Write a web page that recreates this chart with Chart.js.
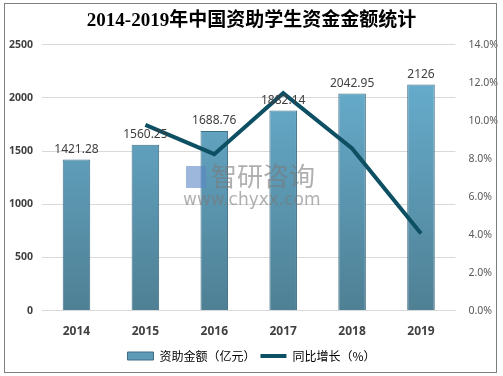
<!DOCTYPE html>
<html>
<head>
<meta charset="utf-8">
<script src="https://cdn.jsdelivr.net/npm/chart.js@4.4.0/dist/chart.umd.min.js"></script>
<style>
    html, body { margin: 0; padding: 0; background: #fff; }
    #wrap { width: 503px; height: 376px; position: relative; }
</style>
</head>
<body>
<div id="wrap"><canvas id="chart" width="503" height="376"></canvas></div>
<script>
// 2014-2019年中国资助学生资金金额统计
const years = ["2014", "2015", "2016", "2017", "2018", "2019"];
const amounts = [1421.28, 1560.25, 1688.76, 1882.14, 2042.95, 2126]; // 亿元
const growth = [null, 9.78, 8.24, 11.45, 8.54, 4.06]; // %
const leftTicks = [0, 500, 1000, 1500, 2000, 2500];
const rightTicks = [0, 2, 4, 6, 8, 10, 12, 14];

// 柱子上方数值 + 水印 + 外框
const extraPlugin = {
    id: 'extra',
    afterDatasetsDraw(chart) {
        const ctx = chart.ctx;
        // 水印
        ctx.save();
        ctx.globalAlpha = 0.6;
        ctx.fillStyle = '#5b86c4';
        ctx.fillRect(186, 166, 20, 22);
        ctx.fillStyle = '#7a7a7a';
        ctx.textBaseline = 'middle';
        ctx.font = '26px "Noto Sans CJK SC"';
        ctx.fillText('智研咨询', 211, 176);
        ctx.font = '17px "DejaVu Sans"';
        ctx.fillText('www.chyxx.com', 183, 201);
        ctx.restore();

        const meta = chart.getDatasetMeta(1);
        ctx.save();
        ctx.font = '12px "Noto Sans", sans-serif';
        ctx.fillStyle = '#404040';
        ctx.textAlign = 'center';
        ctx.textBaseline = 'bottom';
        meta.data.forEach(function (bar, i) {
            ctx.fillText(String(amounts[i]), bar.x, bar.y - 4);
        });
        ctx.restore();
    },
    afterDraw(chart) {
        const ctx = chart.ctx;
        ctx.save();
        ctx.strokeStyle = '#7f7f7f';
        ctx.lineWidth = 1;
        ctx.strokeRect(4.5, 3.5, 492, 369);
        ctx.restore();
    }
};

function barGradient(context) {
    const area = context.chart.chartArea;
    if (!area) return '#5c9ab5';
    const g = context.chart.ctx.createLinearGradient(0, area.top + 40, 0, area.bottom);
    g.addColorStop(0, '#66abcb');
    g.addColorStop(1, '#4f8094');
    return g;
}

new Chart(document.getElementById('chart'), {
    data: {
        labels: years,
        datasets: [{
            type: 'line',
            label: '同比增长（%）',
            data: growth,
            yAxisID: 'y1',
            borderColor: '#0d4f63',
            backgroundColor: '#0d4f63',
            borderWidth: 4,
            pointRadius: 0,
            tension: 0,
            order: 0
        }, {
            type: 'bar',
            label: '资助金额（亿元）',
            data: amounts,
            yAxisID: 'y',
            backgroundColor: barGradient,
            borderColor: '#3f6f85',
            borderWidth: 1,
            barPercentage: 0.4,
            categoryPercentage: 1,
            order: 1
        }]
    },
    options: {
        responsive: false,
        animation: false,
        layout: { padding: { left: 0, right: 0, top: 0, bottom: 4 } },
        plugins: {
            title: {
                display: true,
                text: '2014-2019年中国资助学生资金金额统计',
                color: '#000',
                font: { family: '"Liberation Serif", "Noto Sans CJK SC"', size: 19, weight: 'bold' },
                padding: { top: 10, bottom: 12 }
            },
            legend: {
                position: 'bottom',
                labels: {
                    usePointStyle: true,
                    pointStyleWidth: 26,
                    boxHeight: 8,
                    color: '#404040',
                    font: { family: '"Noto Sans CJK SC"', size: 12 },
                    padding: 5,
                    generateLabels: function (chart) {
                        return [{
                            text: '资助金额（亿元）', pointStyle: 'rect', fillStyle: '#5c9ab5',
                            strokeStyle: '#3f6f85', lineWidth: 1, datasetIndex: 1
                        }, {
                            text: '同比增长（%）', pointStyle: 'line', fillStyle: '#0d4f63',
                            strokeStyle: '#0d4f63', lineWidth: 4, datasetIndex: 0
                        }];
                    }
                }
            },
            tooltip: { enabled: false }
        },
        scales: {
            x: {
                grid: { display: false },
                border: { color: '#d9d9d9' },
                ticks: {
                    color: '#404040',
                    font: { family: '"Noto Sans", sans-serif', size: 12, weight: 'bold' },
                    padding: 6
                }
            },
            y: {
                position: 'left',
                min: 0,
                max: 2500,
                afterBuildTicks: function (axis) { axis.ticks = leftTicks.map(v => ({ value: v })); },
                grid: { color: '#d9d9d9', drawTicks: false },
                border: { display: false },
                ticks: {
                    color: '#404040',
                    font: { family: '"Noto Sans", sans-serif', size: 10.5, weight: 'bold' },
                    padding: 9,
                    callback: function (value) { return String(value); }
                }
            },
            y1: {
                position: 'right',
                min: 0,
                max: 14,
                afterBuildTicks: function (axis) { axis.ticks = rightTicks.map(v => ({ value: v })); },
                grid: { display: false },
                border: { display: false },
                ticks: {
                    color: '#595959',
                    font: { family: '"Noto Sans", sans-serif', size: 10.5 },
                    padding: 5,
                    callback: function (value) { return value.toFixed(1) + '%'; }
                }
            }
        }
    },
    plugins: [extraPlugin]
});
</script>
</body>
</html>
